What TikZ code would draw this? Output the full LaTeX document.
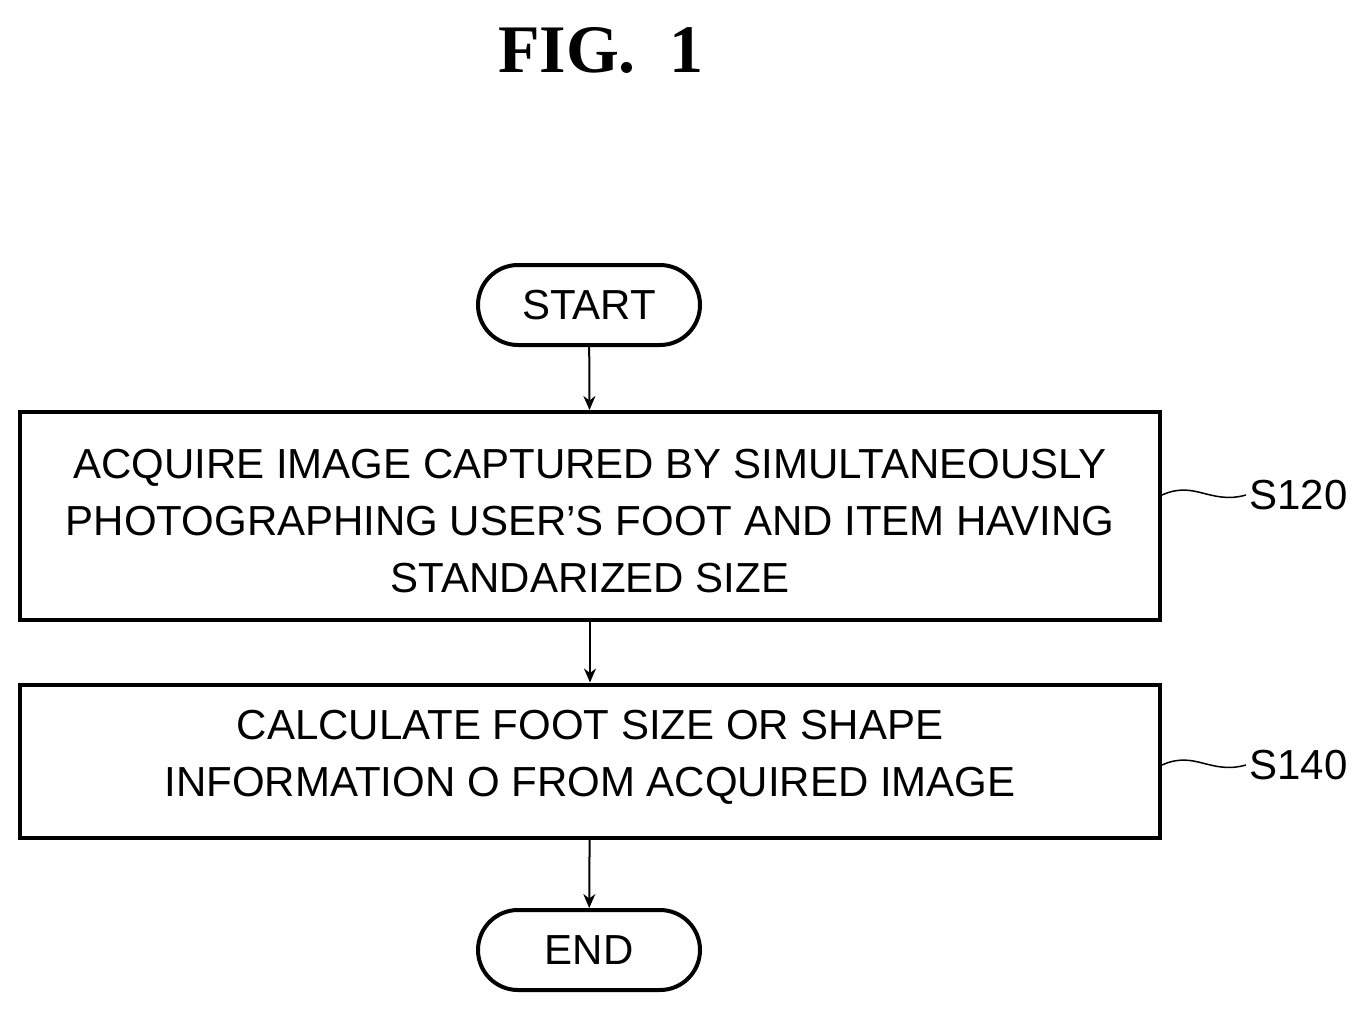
\documentclass[tikz,border=0pt]{standalone}
\usetikzlibrary{arrows.meta}
\usepackage{fontspec}
\setmainfont{Liberation Sans}
\newfontfamily\titlefont{Liberation Serif}
\begin{document}
\begin{tikzpicture}[x=1pt,y=-1pt,
  box/.style={draw,line width=4pt,inner sep=0pt},
  term/.style={draw,line width=4pt,rounded corners=40pt,minimum width=222pt,minimum height=80pt,font=\fontsize{42}{48}\selectfont},
  txt/.style={font=\fontsize{42}{57}\selectfont,align=center},
  arr/.style={line width=2pt,-{Stealth[length=14pt,width=12pt]}},
  lead/.style={line width=1.5pt},
  lab/.style={font=\fontsize{42}{48}\selectfont,anchor=west}]
\useasboundingbox (0,0) rectangle (1371,1018);
\node[font=\titlefont\bfseries\fontsize{68}{72}\selectfont] (title) at (601,50) {FIG.\ \ 1};
\node[term] (start) at (589,305) {START};
\node[box,minimum width=1140pt,minimum height=208pt] (b1) at (590,516) {};
\node[txt] (t1) at (590,521) {ACQUIRE IMAGE CAPTURED BY SIMULTANEOUSLY\\PHOTOGRAPHING USER’S FOOT AND ITEM HAVING\\STANDARIZED SIZE};
\node[box,minimum width=1140pt,minimum height=153pt] (b2) at (590,761) {};
\node[txt] (t2) at (590,757) {CALCULATE FOOT SIZE OR SHAPE\\INFORMATION O FROM ACQUIRED IMAGE};
\node[term] (end) at (589,950) {END};
\draw[arr] (start) -- (b1);
\draw[arr] (b1) -- (b2);
\draw[arr] (b2) -- (end);
\node[lab] (s120) at (1246,495) {S120};
\node[lab] (s140) at (1246,765) {S140};
\draw[lead] (b1.east |- s120) .. controls (1195,480) and (1210,505) .. (s120.west);
\draw[lead] (b2.east |- s140) .. controls (1195,750) and (1210,775) .. (s140.west);
\end{tikzpicture}
\end{document}
